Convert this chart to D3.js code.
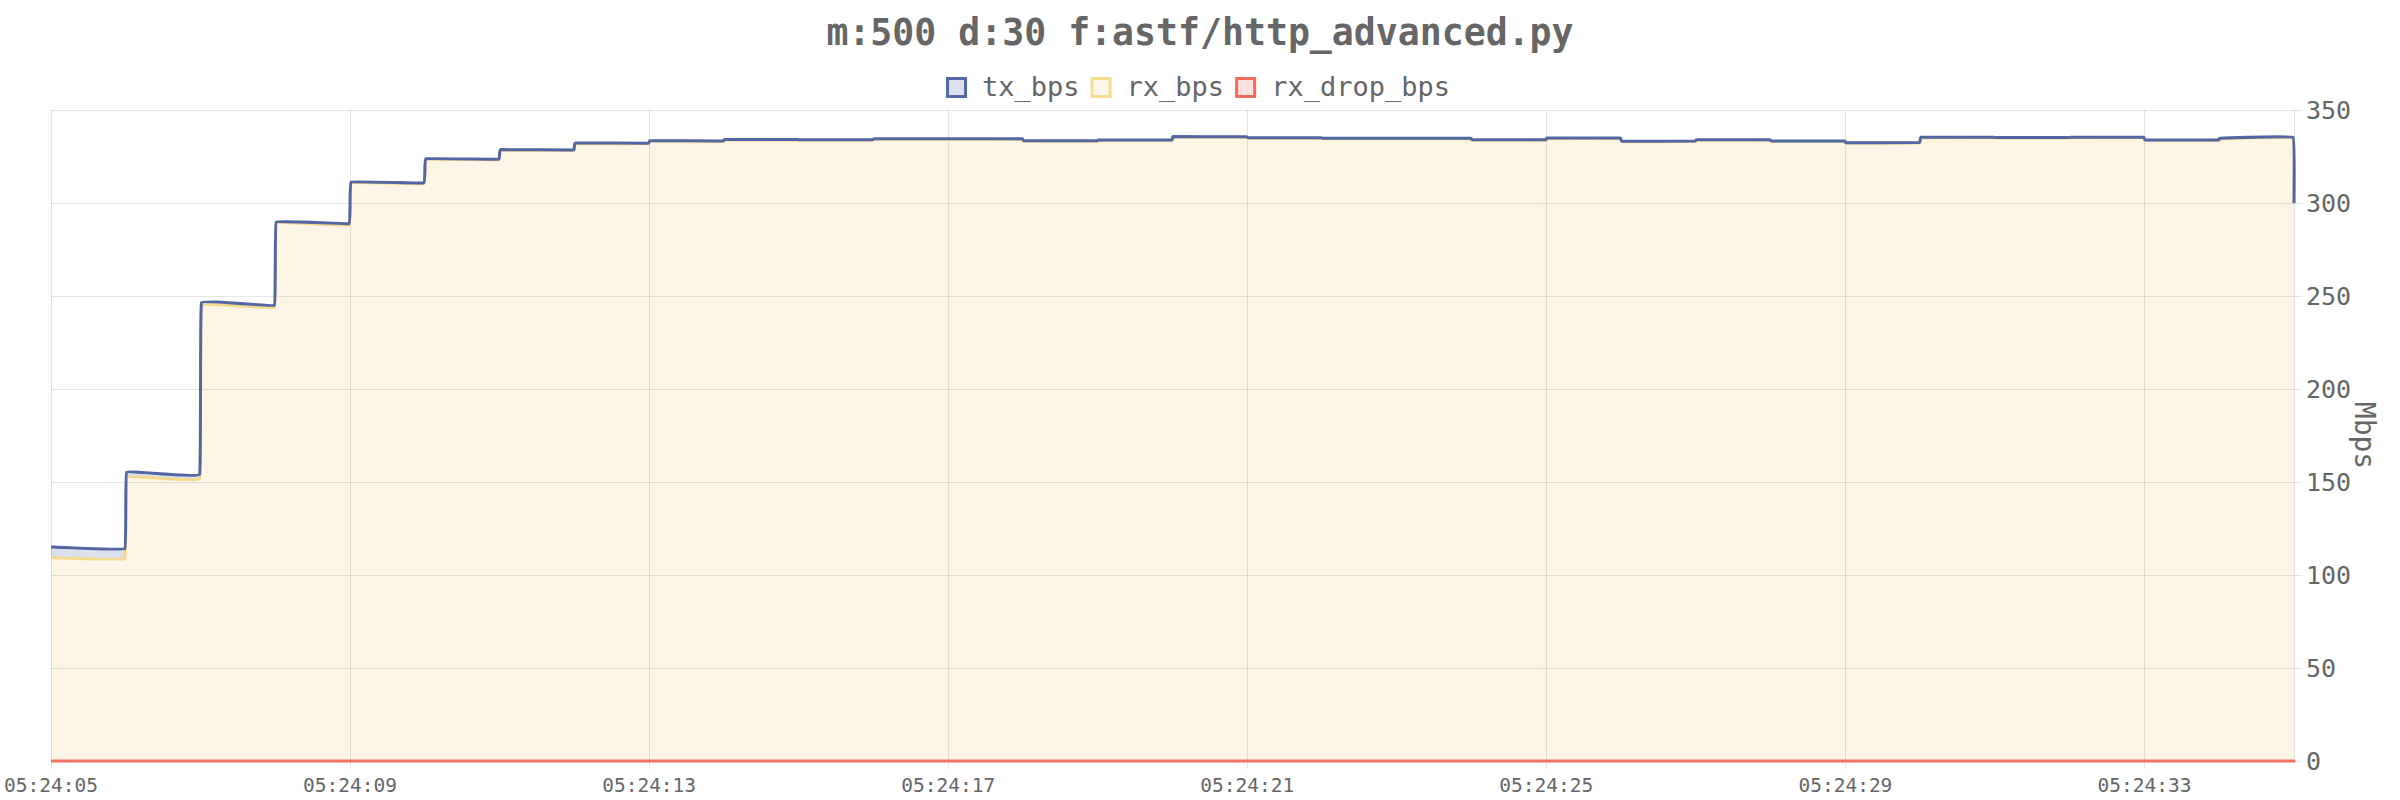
<!DOCTYPE html>
<html>
<head>
<meta charset="utf-8">
<script src="https://cdn.jsdelivr.net/npm/d3@7"></script>
<style>
  html, body { margin: 0; padding: 0; background: #ffffff; }
  svg { display: block; }
  text { font-family: "DejaVu Sans Mono", "Liberation Mono", monospace; fill: #666666; }
</style>
</head>
<body>
<svg id="chart" width="2400" height="800"></svg>
<script>
// ---------------- data ----------------
const chartTitle = "m:500 d:30 f:astf/http_advanced.py";
const seriesNames = ["tx_bps", "rx_bps", "rx_drop_bps"];
const startClock = "05:24:05";
const sampleSeconds = [0, 1, 2, 3, 4, 5, 6, 7, 8, 9, 10, 11, 12, 13, 14, 15, 16, 17, 18, 19, 20, 21, 22, 23, 24, 25, 26, 27, 28, 29];
// value at the beginning and at the end of each one-second sample (Mbps)
const txFirst = [115.1, 155.4, 246.4, 289.8, 311.3, 323.8, 328.7, 332.3, 333.5, 334.2, 334.0, 334.6, 334.6, 333.5, 333.9, 335.7, 335.1, 334.8, 334.8, 334.0, 334.9, 333.2, 334.0, 333.3, 332.4, 335.3, 335.2, 335.3, 333.9, 334.8];
const txLast  = [114.2, 154.1, 245.0, 288.9, 310.8, 323.5, 328.5, 332.1, 333.4, 334.1, 334.0, 334.6, 334.5, 333.5, 333.9, 335.6, 335.1, 334.8, 334.8, 334.0, 334.9, 333.3, 334.0, 333.3, 332.5, 335.3, 335.2, 335.4, 333.9, 335.3];
const rxFirst = [109.3, 152.7, 245.0, 289.2, 310.9, 323.5, 328.4, 332.0, 333.2, 333.9, 333.7, 334.3, 334.3, 333.2, 333.6, 335.4, 334.8, 334.5, 334.5, 333.7, 334.6, 332.9, 333.7, 333.0, 332.1, 335.0, 334.9, 335.0, 333.6, 334.5];
const rxLast  = [108.8, 151.8, 243.8, 288.1, 310.4, 323.2, 328.2, 331.8, 333.1, 333.8, 333.7, 334.3, 334.2, 333.2, 333.6, 335.3, 334.8, 334.5, 334.5, 333.7, 334.6, 333.0, 333.7, 333.0, 332.2, 335.0, 334.9, 335.1, 333.6, 335.0];
const dropFirst = [0, 0, 0, 0, 0, 0, 0, 0, 0, 0, 0, 0, 0, 0, 0, 0, 0, 0, 0, 0, 0, 0, 0, 0, 0, 0, 0, 0, 0, 0];
const dropLast  = [0, 0, 0, 0, 0, 0, 0, 0, 0, 0, 0, 0, 0, 0, 0, 0, 0, 0, 0, 0, 0, 0, 0, 0, 0, 0, 0, 0, 0, 0];
const finalSecond = 30;
const txFinal = 300.0;
const rxFinal = 300.0;
const dropFinal = 0;
const yTickValues = [0, 50, 100, 150, 200, 250, 300, 350];
const xTickLabels = ["05:24:05", "05:24:09", "05:24:13", "05:24:17", "05:24:21", "05:24:25", "05:24:29", "05:24:33"];
const yAxisTitle = "Mbps";

// ---------------- setup ----------------
const W = 2400, H = 800;
const margin = { left: 51, right: 106, top: 110, bottom: 39 };
const plotL = margin.left, plotR = W - margin.right, plotT = margin.top, plotB = H - margin.bottom;

const parseClock = d3.timeParse("%Y-%m-%d %H:%M:%S");
const t0 = parseClock("2020-01-01 " + startClock);
const at = s => new Date(t0.getTime() + s * 1000);

const x = d3.scaleTime().domain([t0, at(finalSecond)]).range([plotL, plotR]);
const y = d3.scaleLinear().domain([0, 350]).range([plotB, plotT]);

const EDGE = 0.012; // offset of in-second samples around each boundary
function buildSeries(first, last, fin) {
  const pts = [];
  sampleSeconds.forEach((s, i) => {
    pts.push({ t: at(i === 0 ? s : s + EDGE), v: first[i] });
    pts.push({ t: at(s + 1 - EDGE), v: last[i] });
  });
  pts.push({ t: at(finalSecond), v: fin });
  return pts;
}
const txData = buildSeries(txFirst, txLast, txFinal);
const rxData = buildSeries(rxFirst, rxLast, rxFinal);
const dropData = buildSeries(dropFirst, dropLast, dropFinal);

const svg = d3.select("#chart");

// ---------------- areas ----------------
const curve = d3.curveCardinal.tension(0.88);
const area = d3.area().x(d => x(d.t)).y0(y(0)).y1(d => y(d.v)).curve(curve);
const line = d3.line().x(d => x(d.t)).y(d => y(d.v)).curve(curve);

svg.append("path").datum(txData).attr("d", area).attr("fill", "#dce0ea");
svg.append("path").datum(rxData).attr("d", area).attr("fill", "#fdf6e6");

// ---------------- grid ----------------
const gridColor = "rgba(0,0,0,0.1)";
const gy = svg.append("g");
gy.selectAll("line").data(yTickValues).join("line")
  .attr("x1", plotL).attr("x2", plotR + 8)
  .attr("y1", d => Math.round(y(d)) + 0.5).attr("y2", d => Math.round(y(d)) + 0.5)
  .attr("stroke", gridColor).attr("stroke-width", 1);

const xTickDates = xTickLabels.map(s => parseClock("2020-01-01 " + s));
const gx = svg.append("g");
gx.selectAll("line").data(xTickDates).join("line")
  .attr("x1", d => Math.round(x(d)) + 0.5).attr("x2", d => Math.round(x(d)) + 0.5)
  .attr("y1", plotT).attr("y2", plotB + 8)
  .attr("stroke", gridColor).attr("stroke-width", 1);
// right border
svg.append("line")
  .attr("x1", Math.round(plotR) + 0.5).attr("x2", Math.round(plotR) + 0.5)
  .attr("y1", plotT).attr("y2", plotB)
  .attr("stroke", gridColor).attr("stroke-width", 1);

// ---------------- lines ----------------
svg.append("path").datum(rxData).attr("d", line)
  .attr("fill", "none").attr("stroke", "#f6d98c").attr("stroke-width", 3).attr("stroke-linejoin", "round");
svg.append("path").datum(txData).attr("d", line)
  .attr("fill", "none").attr("stroke", "#5266a4").attr("stroke-width", 3).attr("stroke-linejoin", "round");
svg.append("path").datum(dropData).attr("d", line)
  .attr("fill", "none").attr("stroke", "#f4705f").attr("stroke-width", 3);

// ---------------- axes labels ----------------
svg.append("g").selectAll("text").data(yTickValues).join("text")
  .attr("x", plotR + 12).attr("y", d => y(d))
  .attr("dy", "0.35em")
  .style("font-size", "25px")
  .text(d => d);

svg.append("g").selectAll("text").data(xTickDates).join("text")
  .attr("x", d => x(d)).attr("y", plotB + 31)
  .attr("text-anchor", "middle")
  .style("font-size", "19.5px")
  .text(d => d3.timeFormat("%H:%M:%S")(d));

svg.append("text")
  .attr("transform", `translate(${plotR + 71},${(plotT + plotB) / 2}) rotate(90)`)
  .attr("text-anchor", "middle").attr("dy", "0.35em")
  .style("font-size", "28px")
  .text(yAxisTitle);

// ---------------- title ----------------
svg.append("text")
  .attr("x", 1200).attr("y", 45)
  .attr("text-anchor", "middle")
  .style("font-size", "36.5px").style("font-weight", "bold")
  .text(chartTitle);

// ---------------- legend ----------------
const legendStyles = [
  { stroke: "#5468a6", fill: "#dde1ee" },
  { stroke: "#f6dc8e", fill: "#fff8e8" },
  { stroke: "#f26b5b", fill: "#fde2df" }
];
const lg = svg.append("g");
let cx = 0;
seriesNames.forEach((name, i) => {
  const g = lg.append("g");
  g.append("rect").attr("x", 1.5).attr("y", 78.5).attr("width", 18).attr("height", 18)
    .attr("fill", legendStyles[i].fill).attr("stroke", legendStyles[i].stroke).attr("stroke-width", 3);
  const t = g.append("text").attr("x", 36).attr("y", 96).style("font-size", "27px").text(name);
  const w = 36 + t.node().getComputedTextLength();
  g.attr("transform", `translate(${cx},0)`);
  cx += w + (i < seriesNames.length - 1 ? 11 : 0);
});
lg.attr("transform", `translate(${1198 - cx / 2},0)`);
</script>
</body>
</html>
